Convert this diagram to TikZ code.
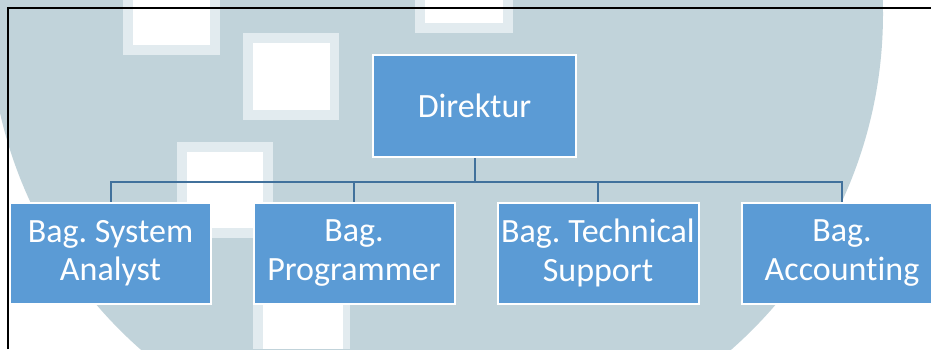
\documentclass[tikz,border=0pt]{standalone}
\usepackage{fontspec}
\setmainfont{Carlito}[Ligatures={NoCommon,NoRequired,NoContextual}]
\frenchspacing
\definecolor{wm}{HTML}{C1D3DA}
\definecolor{wmedge}{HTML}{E2EBEF}
\definecolor{boxblue}{HTML}{5B9BD5}
\definecolor{linkblue}{HTML}{41719C}
\begin{document}
\begin{tikzpicture}[x=1pt,y=-1pt,
  unitbox/.style={rectangle, fill=boxblue, draw=white, line width=2pt,
    minimum width=201pt, minimum height=101pt, inner sep=0pt, align=center,
    text=white, font=\fontsize{34}{38.5}\selectfont\frenchspacing},
  link/.style={draw=linkblue, line width=2pt},
  wsq/.style={fill=wmedge},
  wsqin/.style={fill=white}]
\useasboundingbox (0,0) rectangle (931,349);
\clip (0,0) rectangle (931,349);
% watermark
\fill[white] (0,0) rectangle (931,349);
\fill[wm] (436,14) circle (447);
\fill[wsq] (123,0) rectangle (220,55);
\fill[wsqin] (133,0) rectangle (210,45);
\fill[wsq] (243,33) rectangle (339,120);
\fill[wsqin] (253,43) rectangle (330,110);
\fill[wsq] (177,142) rectangle (273,238);
\fill[wsqin] (187,152) rectangle (263,228);
\fill[wsq] (415,0) rectangle (513,33);
\fill[wsqin] (425,0) rectangle (503,23);
\fill[wsq] (253,300) rectangle (350,349);
\fill[wsqin] (263,300) rectangle (343,349);
% frame
\draw[black, line width=1.4pt] (8,349) -- (8,8) -- (931,8);
% nodes
\node[unitbox, minimum width=203pt, minimum height=102pt] (dir) at (474.5,106) {Direktur};
\node[unitbox] (sa) at (110.5,253) {Bag. System\\Analyst};
\node[unitbox] (pr) at (354,253) {Bag.\\Programmer};
\node[unitbox] (ts) at (598,253) {Bag. Technical\\Support};
\node[unitbox] (ac) at (842,253) {Bag.\\Accounting};
% connectors
\coordinate (bus) at (474.5,182);
\draw[link] (dir.south) -- (bus);
\draw[link] (bus) -| (sa.north);
\draw[link] (bus) -| (pr.north);
\draw[link] (bus) -| (ts.north);
\draw[link] (bus) -| (ac.north);
\end{tikzpicture}
\end{document}
